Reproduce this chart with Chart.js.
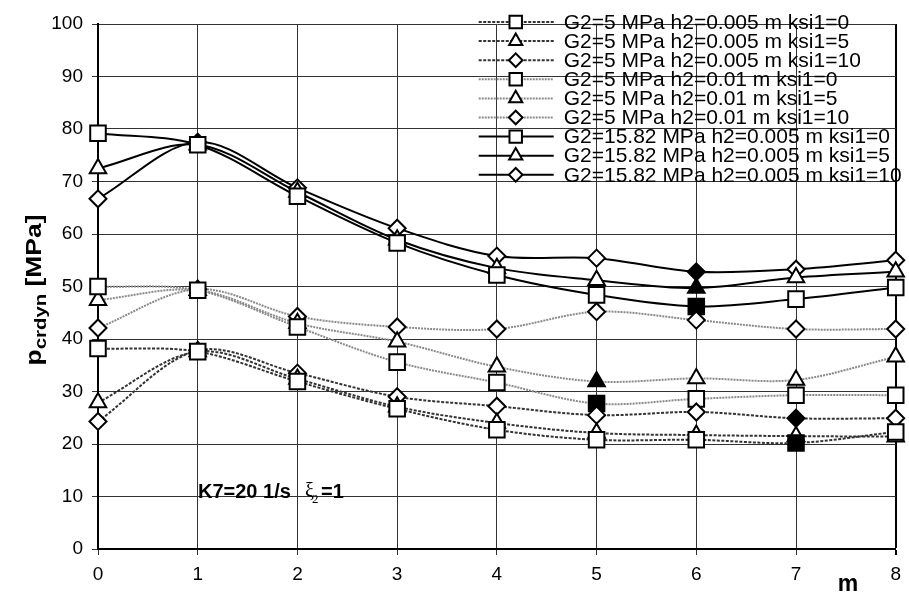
<!DOCTYPE html>
<html>
<head>
<meta charset="utf-8">
<script src="https://cdn.jsdelivr.net/npm/chart.js@4.4.0/dist/chart.umd.min.js"></script>
<style>
  html, body { margin: 0; padding: 0; background: #fff; }
  #wrap { width: 909px; height: 592px; }
</style>
</head>
<body>
<div id="wrap"><canvas id="chart"></canvas></div>
<script>
// x categories (m) and series values
var mValues = ['0', '1', '2', '3', '4', '5', '6', '7', '8'];

var g5h005k0  = [38.2, 37.6, 31.9, 26.7, 22.7, 20.8, 20.8, 20.2, 22.3];
var g5h005k5  = [27.9, 37.6, 32.4, 27.1, 24.0, 22.1, 21.7, 21.5, 21.4];
var g5h005k10 = [24.3, 37.8, 33.5, 29.0, 27.2, 25.5, 26.1, 24.9, 24.9];
var g5h01k0   = [50.0, 49.3, 42.3, 35.6, 31.7, 27.7, 28.6, 29.3, 29.3];
var g5h01k5   = [47.4, 49.3, 43.0, 39.5, 34.7, 31.9, 32.5, 32.2, 36.6];
var g5h01k10  = [42.1, 49.5, 44.3, 42.3, 41.9, 45.2, 43.6, 41.9, 41.9];
var g15h005k0  = [79.2, 77.0, 67.2, 58.3, 52.2, 48.4, 46.2, 47.6, 49.8];
var g15h005k5  = [72.5, 77.0, 68.0, 58.9, 53.5, 51.2, 49.7, 51.7, 52.8];
var g15h005k10 = [66.7, 77.5, 68.8, 61.1, 55.8, 55.4, 52.8, 53.3, 55.0];

var seriesLabels = [
    'G2=5 MPa h2=0.005 m ksi1=0',
    'G2=5 MPa h2=0.005 m ksi1=5',
    'G2=5 MPa h2=0.005 m ksi1=10',
    'G2=5 MPa h2=0.01 m ksi1=0',
    'G2=5 MPa h2=0.01 m ksi1=5',
    'G2=5 MPa h2=0.01 m ksi1=10',
    'G2=15.82 MPa h2=0.005 m ksi1=0',
    'G2=15.82 MPa h2=0.005 m ksi1=5',
    'G2=15.82 MPa h2=0.005 m ksi1=10'
];
var seriesValues = [g5h005k0, g5h005k5, g5h005k10, g5h01k0, g5h01k5, g5h01k10, g15h005k0, g15h005k5, g15h005k10];

// index of the black (filled) marker in each series, null = none
var filledAt = [7, null, 7, 5, 5, null, 6, 6, 6];

// styles per group (h2=0.005 dark dashed, h2=0.01 grey dotted, G2=15.82 solid)
var groupStyle = [
    { color: '#333333', dash: [3, 1.5] },
    { color: '#8a8a8a', dash: [2, 1] },
    { color: '#000000', dash: [] }
];
var markerStyle = ['rect', 'triangle', 'rectRot'];
var markerRadius = { rect: 11, triangle: 9.5, rectRot: 8.5 };

var datasets = seriesValues.map(function (vals, i) {
    var g = groupStyle[Math.floor(i / 3)];
    var ps = markerStyle[i % 3];
    return {
        label: seriesLabels[i],
        data: vals,
        borderColor: g.color,
        borderDash: g.dash,
        borderWidth: 2,
        tension: 0.33,
        pointStyle: ps,
        pointRadius: markerRadius[ps],
        pointHoverRadius: markerRadius[ps],
        pointBorderColor: '#000',
        pointBorderWidth: 2,
        pointBackgroundColor: vals.map(function (v, j) { return j === filledAt[i] ? '#000' : '#fff'; })
    };
});

// legend, axis titles and note drawn on top of the plot
var overlay = {
    id: 'overlay',
    afterDraw: function (chart) {
        var ctx = chart.ctx;
        var ca = chart.chartArea;
        ctx.save();

        // legend inside top right
        var lx = ca.right - 417;
        chart.data.datasets.forEach(function (ds, i) {
            var y = 22 + i * 19.1;
            ctx.strokeStyle = ds.borderColor;
            ctx.lineWidth = 2;
            ctx.setLineDash(ds.borderDash);
            ctx.beginPath();
            ctx.moveTo(lx, y);
            ctx.lineTo(lx + 75, y);
            ctx.stroke();
            ctx.setLineDash([]);
            ctx.fillStyle = '#fff';
            ctx.strokeStyle = '#000';
            ctx.lineWidth = 2;
            Chart.helpers.drawPoint(ctx, { pointStyle: ds.pointStyle, radius: ds.pointRadius * 0.8, rotation: 0, borderWidth: 2 }, lx + 37, y);
            ctx.fillStyle = '#000';
            ctx.font = '21px "Liberation Sans", Arial, sans-serif';
            ctx.textBaseline = 'middle';
            ctx.textAlign = 'left';
            ctx.fillText(ds.label, lx + 85, y + 1);
        });

        // y axis title p_crdyn [MPa]
        ctx.translate(37, 290);
        ctx.rotate(-Math.PI / 2);
        ctx.scale(1.2, 1);
        ctx.fillStyle = '#000';
        ctx.textBaseline = 'alphabetic';
        ctx.textAlign = 'left';
        var bigFont = 'bold 22px "Liberation Sans", Arial, sans-serif';
        var subFont = 'bold 17px "Liberation Sans", Arial, sans-serif';
        ctx.font = bigFont;
        var wP = ctx.measureText('p').width;
        var wU = ctx.measureText(' [MPa]').width;
        ctx.font = subFont;
        var wS = ctx.measureText('crdyn').width;
        var sx = -(wP + wS + wU) / 2;
        ctx.font = bigFont;
        ctx.fillText('p', sx, 4);
        ctx.font = subFont;
        ctx.fillText('crdyn', sx + wP, 9);
        ctx.font = bigFont;
        ctx.fillText(' [MPa]', sx + wP + wS, 4);
        ctx.setTransform(1, 0, 0, 1, 0, 0);

        // x axis title
        ctx.font = 'bold 23px "Liberation Sans", Arial, sans-serif';
        ctx.textAlign = 'center';
        ctx.fillText('m', 848, 591);

        // note K7=20 1/s  ξ2=1
        ctx.textAlign = 'left';
        ctx.font = 'bold 20px "Liberation Sans", Arial, sans-serif';
        ctx.fillText('K7=20 1/s', 198, 498);
        ctx.font = '20px "Liberation Serif", "Times New Roman", serif';
        ctx.fillText('\u03be', 305, 497);
        ctx.font = '13px "Liberation Serif", "Times New Roman", serif';
        ctx.fillText('2', 312, 503);
        ctx.font = 'bold 20px "Liberation Sans", Arial, sans-serif';
        ctx.fillText('=1', 321, 498);

        ctx.restore();
    }
};

var tickFont = { family: '"Liberation Sans", Arial, sans-serif', size: 19 };

new Chart(document.getElementById('chart'), {
    type: 'line',
    data: { labels: mValues, datasets: datasets },
    options: {
        responsive: true,
        maintainAspectRatio: false,
        animation: false,
        events: [],
        layout: { padding: { left: 0, right: 7, top: 24, bottom: 0 } },
        plugins: {
            legend: { display: false },
            tooltip: { enabled: false }
        },
        scales: {
            x: {
                afterFit: function (s) { s.height = 43; },
                grid: {
                    color: function (c) { return c.index === 8 ? '#000' : '#333'; },
                    lineWidth: function (c) { return c.index === 8 ? 2 : 1; },
                    tickLength: 6
                },
                border: { color: '#000', width: 2 },
                ticks: { color: '#000', font: tickFont, padding: 8, maxRotation: 0 }
            },
            y: {
                min: 0,
                max: 100,
                afterFit: function (s) { s.width = 98; },
                grid: { color: '#333', lineWidth: 1, tickLength: 6 },
                border: { color: '#000', width: 2 },
                ticks: { color: '#000', font: tickFont, stepSize: 10, padding: 9 }
            }
        }
    },
    plugins: [overlay]
});
</script>
</body>
</html>
